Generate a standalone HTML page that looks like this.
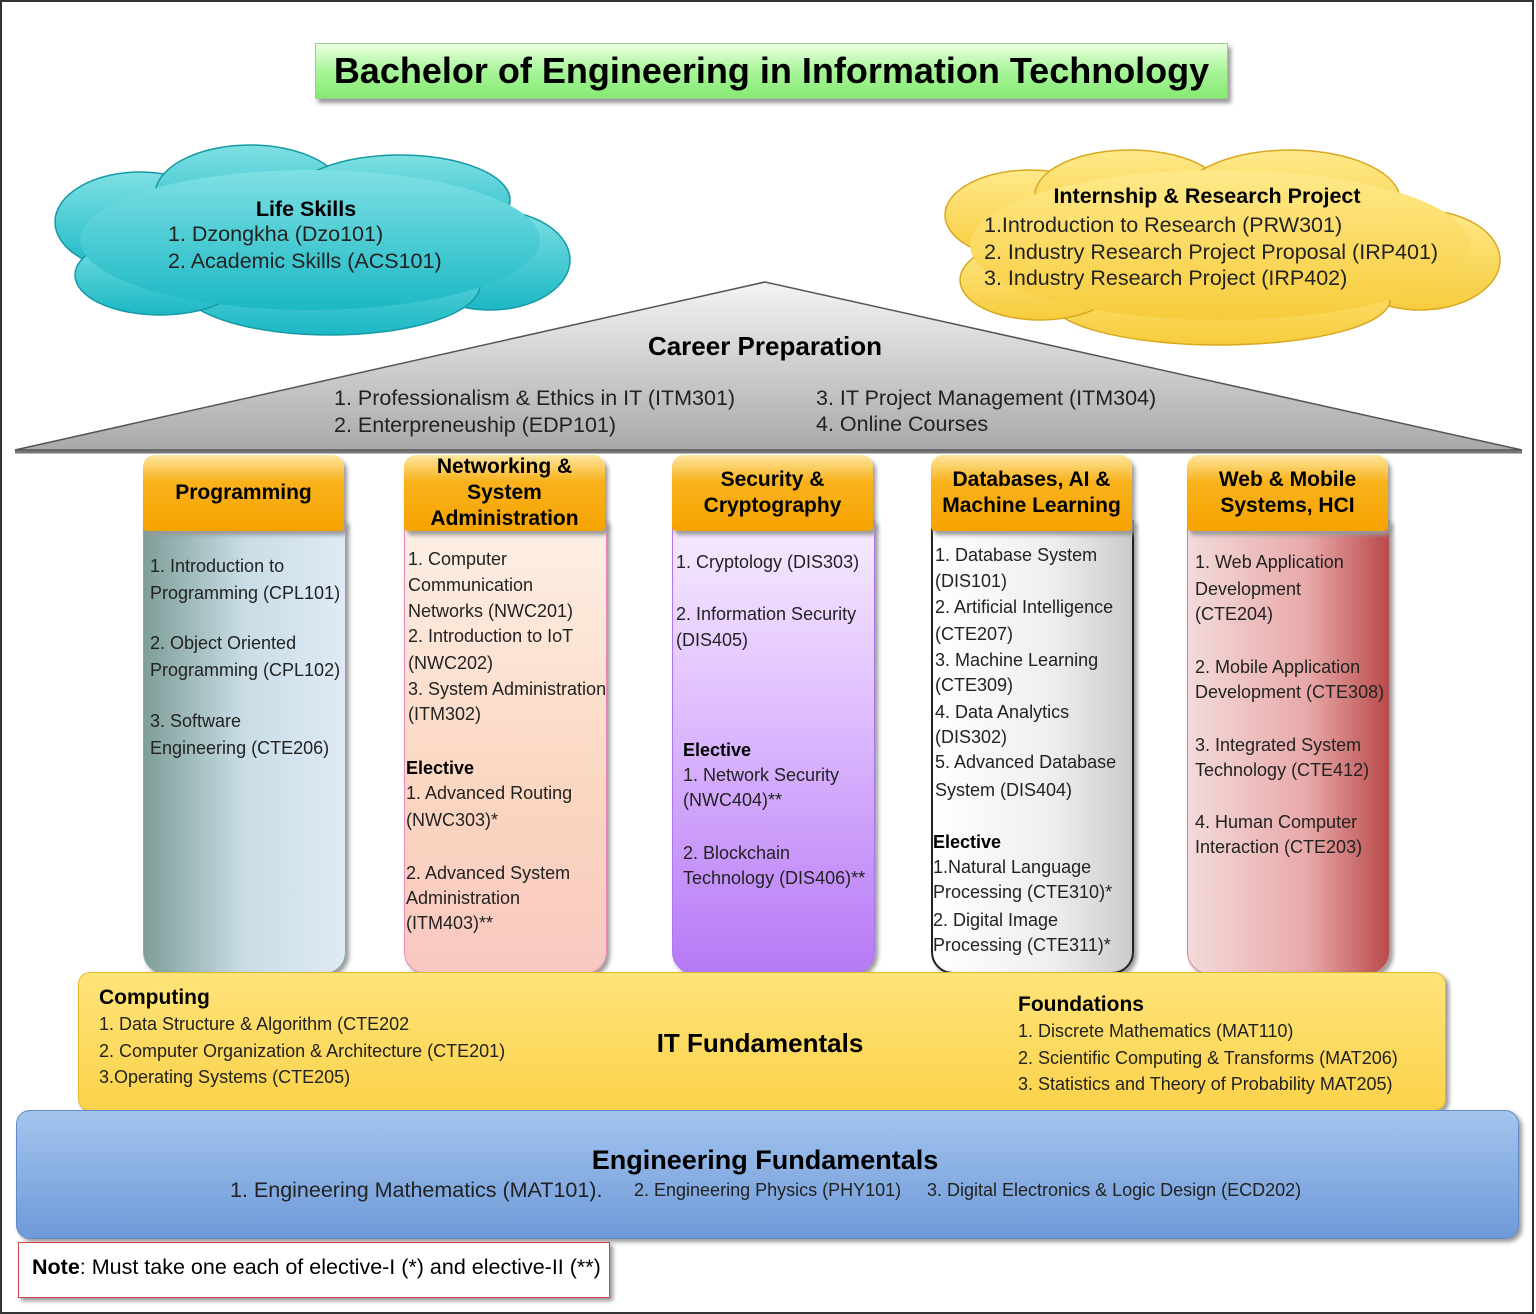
<!DOCTYPE html>
<html><head><meta charset="utf-8"><style>
body{margin:0;width:1536px;height:1314px;position:relative;background:#fff;font-family:"Liberation Sans",sans-serif;overflow:hidden}
.t{position:absolute;font-size:18px;line-height:20px;white-space:nowrap;color:#222}
.b{font-weight:bold;color:#000}
.l{font-size:21.5px;line-height:24px}
.hd{position:absolute;height:76px;border-radius:12px 12px 4px 4px;background:linear-gradient(#fde7a0,#f9b21c 35%,#f5a300);box-shadow:3px 4px 4px #999;display:flex;align-items:center;justify-content:center;text-align:center;font-weight:bold;font-size:21px;line-height:26px;color:#000}
.bd{position:absolute;border-radius:0 0 22px 22px;box-shadow:3px 3px 4px #999}
</style></head><body>
<div style="position:absolute;left:0;top:0;width:1530px;height:1310px;border:2px solid #333"></div>
<div style="position:absolute;left:315px;top:43px;width:911px;height:54px;background:linear-gradient(#e9ffe0,#a8f59a 50%,#86ea72);border:1px solid #9c9;box-shadow:3px 4px 4px #999;text-align:center;font-weight:bold;font-size:36px;line-height:54px">Bachelor of Engineering in Information Technology</div>

<svg width="1536" height="1314" style="position:absolute;left:0;top:0">
<defs>
<linearGradient id="cy" x1="0" y1="0" x2="0" y2="1"><stop offset="0" stop-color="#7fe0e4"/><stop offset="1" stop-color="#1bb8c4"/></linearGradient>
<linearGradient id="ye" x1="0" y1="0" x2="0" y2="1"><stop offset="0" stop-color="#ffe98a"/><stop offset="1" stop-color="#f7cc3c"/></linearGradient>
<linearGradient id="gr" x1="0" y1="0" x2="0" y2="1"><stop offset="0" stop-color="#f4f4f4"/><stop offset="1" stop-color="#a9a9a9"/></linearGradient>
</defs>
<g fill="url(#cy)" stroke="#159aa6" stroke-width="1.5">
<ellipse cx="140" cy="222" rx="85" ry="50"/><ellipse cx="250" cy="195" rx="95" ry="50"/><ellipse cx="400" cy="200" rx="110" ry="45"/><ellipse cx="490" cy="260" rx="80" ry="50"/><ellipse cx="330" cy="285" rx="150" ry="50"/><ellipse cx="160" cy="275" rx="85" ry="40"/>
</g>
<g fill="url(#cy)"><ellipse cx="310" cy="240" rx="230" ry="70"/></g>
<g fill="url(#ye)" stroke="#d9a820" stroke-width="1.5">
<ellipse cx="1030" cy="215" rx="85" ry="45"/><ellipse cx="1130" cy="195" rx="95" ry="45"/><ellipse cx="1290" cy="200" rx="110" ry="50"/><ellipse cx="1420" cy="260" rx="80" ry="50"/><ellipse cx="1220" cy="300" rx="170" ry="45"/><ellipse cx="1040" cy="280" rx="80" ry="40"/>
</g>
<g fill="url(#ye)"><ellipse cx="1220" cy="245" rx="250" ry="75"/></g>
<polygon points="765,282 15,450 1522,450" fill="url(#gr)" stroke="#555" stroke-width="1.5"/>
<line x1="15" y1="452" x2="1522" y2="452" stroke="#777" stroke-width="3"/>
</svg>

<div class="t b l" style="left:0;width:612px;text-align:center;top:197px">Life Skills</div>
<div class="t l" style="left:168px;top:222px">1. Dzongkha (Dzo101)</div>
<div class="t l" style="left:168px;top:249px">2. Academic Skills (ACS101)</div>
<div class="t b l" style="left:1007px;width:400px;text-align:center;top:184px">Internship &amp; Research Project</div>
<div class="t l" style="left:984px;top:213px">1.Introduction to Research (PRW301)</div>
<div class="t l" style="left:984px;top:240px">2. Industry Research Project Proposal (IRP401)</div>
<div class="t l" style="left:984px;top:266px">3. Industry Research Project (IRP402)</div>

<div class="t b" style="left:565px;width:400px;text-align:center;top:331px;font-size:26px;line-height:30px">Career Preparation</div>
<div class="t l" style="left:334px;top:386px">1. Professionalism &amp; Ethics in IT (ITM301)</div>
<div class="t l" style="left:334px;top:413px">2. Enterpreneuship (EDP101)</div>
<div class="t l" style="left:816px;top:386px">3. IT Project Management (ITM304)</div>
<div class="t l" style="left:816px;top:412px">4. Online Courses</div>

<div class="bd" style="left:143px;top:520px;width:201px;height:452px;background:linear-gradient(90deg,#7e9e98,#c9dde6 50%,#dfeaf6);border:1px solid #8aa"></div>
<div class="bd" style="left:404px;top:520px;width:201px;height:452px;background:linear-gradient(#fdf0e6,#fbd6c0 60%,#f8c8c0);border:1px solid #e8b"></div>
<div class="bd" style="left:672px;top:520px;width:201px;height:452px;background:linear-gradient(#f7ecff,#e0c0ff 40%,#b679f5);border:1px solid #a7e"></div>
<div class="bd" style="left:931px;top:520px;width:199px;height:450px;background:linear-gradient(90deg,#fff,#eee 60%,#ccc);border:2px solid #222"></div>
<div class="bd" style="left:1187px;top:520px;width:201px;height:452px;background:linear-gradient(90deg,#f3dada,#e8a8a8 60%,#b94a4a);border:1px solid #c88"></div>

<div class="hd" style="left:143px;top:455px;width:201px">Programming</div>
<div class="hd" style="left:404px;top:455px;width:201px">Networking &amp;<br>System<br>Administration</div>
<div class="hd" style="left:672px;top:455px;width:201px">Security &amp;<br>Cryptography</div>
<div class="hd" style="left:931px;top:455px;width:201px">Databases, AI &amp;<br>Machine Learning</div>
<div class="hd" style="left:1187px;top:455px;width:201px">Web &amp; Mobile<br>Systems, HCI</div>

<div class="t" style="left:150px;top:556px">1. Introduction to</div>
<div class="t" style="left:150px;top:583px">Programming (CPL101)</div>
<div class="t" style="left:150px;top:633px">2. Object Oriented</div>
<div class="t" style="left:150px;top:660px">Programming (CPL102)</div>
<div class="t" style="left:150px;top:711px">3. Software</div>
<div class="t" style="left:150px;top:738px">Engineering (CTE206)</div>

<div class="t" style="left:408px;top:549px">1. Computer</div>
<div class="t" style="left:408px;top:575px">Communication</div>
<div class="t" style="left:408px;top:601px">Networks (NWC201)</div>
<div class="t" style="left:408px;top:626px">2. Introduction to IoT</div>
<div class="t" style="left:408px;top:653px">(NWC202)</div>
<div class="t" style="left:408px;top:679px">3. System Administration</div>
<div class="t" style="left:408px;top:704px">(ITM302)</div>
<div class="t b" style="left:406px;top:758px">Elective</div>
<div class="t" style="left:406px;top:783px">1. Advanced Routing</div>
<div class="t" style="left:406px;top:810px">(NWC303)*</div>
<div class="t" style="left:406px;top:863px">2. Advanced System</div>
<div class="t" style="left:406px;top:888px">Administration</div>
<div class="t" style="left:406px;top:913px">(ITM403)**</div>

<div class="t" style="left:676px;top:552px">1. Cryptology (DIS303)</div>
<div class="t" style="left:676px;top:604px">2. Information Security</div>
<div class="t" style="left:676px;top:630px">(DIS405)</div>
<div class="t b" style="left:683px;top:740px">Elective</div>
<div class="t" style="left:683px;top:765px">1. Network Security</div>
<div class="t" style="left:683px;top:790px">(NWC404)**</div>
<div class="t" style="left:683px;top:843px">2. Blockchain</div>
<div class="t" style="left:683px;top:868px">Technology (DIS406)**</div>

<div class="t" style="left:935px;top:545px">1. Database System</div>
<div class="t" style="left:935px;top:571px">(DIS101)</div>
<div class="t" style="left:935px;top:597px">2. Artificial Intelligence</div>
<div class="t" style="left:935px;top:624px">(CTE207)</div>
<div class="t" style="left:935px;top:650px">3. Machine Learning</div>
<div class="t" style="left:935px;top:675px">(CTE309)</div>
<div class="t" style="left:935px;top:702px">4. Data Analytics</div>
<div class="t" style="left:935px;top:727px">(DIS302)</div>
<div class="t" style="left:935px;top:752px">5. Advanced Database</div>
<div class="t" style="left:935px;top:780px">System (DIS404)</div>
<div class="t b" style="left:933px;top:832px">Elective</div>
<div class="t" style="left:933px;top:857px">1.Natural Language</div>
<div class="t" style="left:933px;top:882px">Processing (CTE310)*</div>
<div class="t" style="left:933px;top:910px">2. Digital Image</div>
<div class="t" style="left:933px;top:935px">Processing (CTE311)*</div>

<div class="t" style="left:1195px;top:552px">1. Web Application</div>
<div class="t" style="left:1195px;top:579px">Development</div>
<div class="t" style="left:1195px;top:604px">(CTE204)</div>
<div class="t" style="left:1195px;top:657px">2. Mobile Application</div>
<div class="t" style="left:1195px;top:682px">Development (CTE308)</div>
<div class="t" style="left:1195px;top:735px">3. Integrated System</div>
<div class="t" style="left:1195px;top:760px">Technology (CTE412)</div>
<div class="t" style="left:1195px;top:812px">4. Human Computer</div>
<div class="t" style="left:1195px;top:837px">Interaction (CTE203)</div>

<div style="position:absolute;left:78px;top:972px;width:1366px;height:137px;border-radius:12px;background:linear-gradient(#ffe47a,#fbd24a);border:1px solid #e0b830;box-shadow:3px 3px 4px #999"></div>
<div class="t b" style="left:99px;top:986px;font-size:21px;line-height:24px">Computing</div>
<div class="t" style="left:99px;top:1014px">1. Data Structure &amp; Algorithm (CTE202</div>
<div class="t" style="left:99px;top:1041px">2. Computer Organization &amp; Architecture (CTE201)</div>
<div class="t" style="left:99px;top:1067px">3.Operating Systems (CTE205)</div>
<div class="t b" style="left:560px;width:400px;text-align:center;top:1028px;font-size:26px;line-height:30px">IT Fundamentals</div>
<div class="t b" style="left:1018px;top:993px;font-size:21px;line-height:24px">Foundations</div>
<div class="t" style="left:1018px;top:1021px">1. Discrete Mathematics (MAT110)</div>
<div class="t" style="left:1018px;top:1048px">2. Scientific Computing &amp; Transforms (MAT206)</div>
<div class="t" style="left:1018px;top:1074px">3. Statistics and Theory of Probability MAT205)</div>

<div style="position:absolute;left:16px;top:1110px;width:1501px;height:127px;border-radius:14px;background:linear-gradient(#a3c4ee,#6f9ad8);border:1px solid #5f8ac8;box-shadow:3px 3px 4px #999"></div>
<div class="t b" style="left:515px;width:500px;text-align:center;top:1145px;font-size:27px;line-height:30px">Engineering Fundamentals</div>
<div class="t l" style="left:230px;top:1178px">1. Engineering Mathematics (MAT101).</div>
<div class="t" style="left:634px;top:1180px">2. Engineering Physics (PHY101)</div>
<div class="t" style="left:927px;top:1180px">3. Digital Electronics &amp; Logic Design (ECD202)</div>

<div style="position:absolute;left:18px;top:1242px;width:590px;height:54px;border:1px solid #c44;background:#fff;box-shadow:3px 3px 4px #999"></div>
<div class="t l" style="left:32px;top:1255px;color:#000"><b>Note</b>: Must take one each of elective-I (*) and elective-II (**)</div>
</body></html>
